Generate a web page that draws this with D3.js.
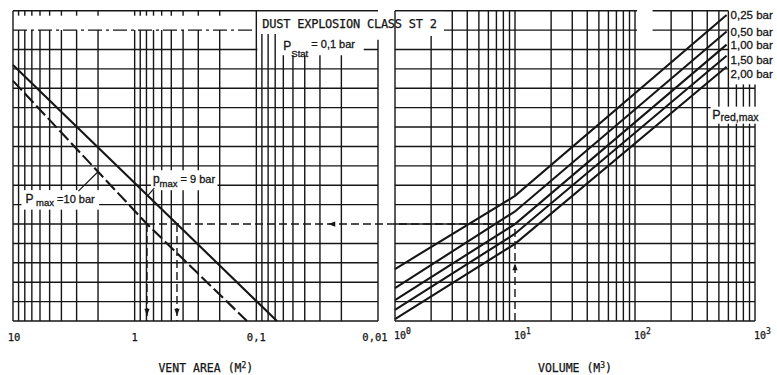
<!DOCTYPE html>
<html>
<head>
<meta charset="utf-8">
<script src="https://cdn.jsdelivr.net/npm/d3@7"></script>
<style>
  html, body { margin: 0; padding: 0; background: #fff; }
  svg { display: block; }
  .mono { font-family: "DejaVu Sans Mono", "Liberation Mono", monospace; stroke: #161616; stroke-width: 0.25px; }
  .sans { font-family: "Liberation Sans", Arial, sans-serif; stroke: #161616; stroke-width: 0.3px; }
</style>
</head>
<body>
<svg id="chart" width="777" height="375"></svg>
<script>
// ---- axis values -------------------------------------------------------
// vent area axis (m²), decreasing to the right
const areaTicks = [10, 1, 0.1, 0.01];
const areaTickLabels = ["10", "1", "0,1", "0,01"];
// volume axis (m³)
const volumeTicks = [1, 10, 100, 1000];
const volumeExponents = ["0", "1", "2", "3"];
// the nomogram's shared, unlabelled row scale
const rowCount = 16;

// ---- left panel: maximum explosion pressure lines (vent area -> row) ----
const pmax9Area = [10, 0.449, 0.0677];
const pmax9Row = [13.2, 5.0, 0];
const pmax10Area = [10, 0.792, 0.1194];
const pmax10Row = [12.38, 5.0, 0];

// ---- right panel: reduced explosion pressure lines (volume -> row) ------
const predLabels = ["0,25 bar", "0,50 bar", "1,00 bar", "1,50 bar", "2,00 bar"];
const predVolume = [1, 10, 580];
const pred025 = [2.68, 6.45, 15.78];
const pred050 = [1.70, 5.65, 14.93];
const pred100 = [1.08, 5.00, 14.25];
const pred150 = [0.57, 4.50, 13.68];
const pred200 = [0.10, 3.98, 13.11];
const predRows = [pred025, pred050, pred100, pred150, pred200];

// worked example: 10 m³ vessel, p_red,max = 1,00 bar
const exampleVolume = 10;
const exampleLine = 2;

// ---- drawing ------------------------------------------------------------
const W = 777, H = 375;
const ink = "#161616";
const svg = d3.select("#chart");
svg.append("rect").attr("width", W).attr("height", H).attr("fill", "#fff");

const y = d3.scaleLinear().domain([0, rowCount]).range([321, 10.7]);
const xL = d3.scaleLog().domain([10, 0.01]).range([13, 378]);
const xR = d3.scaleLog().domain([1, 1000]).range([395, 755]);

function decadeValues(lo, hi) {
  const out = [];
  for (let d = lo; d < hi * 0.999; d *= 10)
    for (let k = 1; k < 10; k++) out.push(+(d * k).toPrecision(3));
  out.push(hi);
  return out;
}
const areaGrid = decadeValues(0.01, 10);
const volGrid = decadeValues(1, 1000);
const rows = d3.range(0, rowCount + 1);

// piecewise-linear in log10(x)
function rowAt(xs, rs, v) {
  const lv = Math.log10(v);
  for (let i = 0; i < xs.length - 1; i++) {
    const a = Math.log10(xs[i]), b = Math.log10(xs[i + 1]);
    const t = (lv - a) / (b - a);
    if (t >= -1e-9 && t <= 1 + 1e-9) return rs[i] + t * (rs[i + 1] - rs[i]);
  }
  return null;
}
function valueAt(xs, rs, r) {
  for (let i = 0; i < xs.length - 1; i++) {
    const t = (r - rs[i]) / (rs[i + 1] - rs[i]);
    if (t >= -1e-9 && t <= 1 + 1e-9) {
      const a = Math.log10(xs[i]), b = Math.log10(xs[i + 1]);
      return Math.pow(10, a + t * (b - a));
    }
  }
  return null;
}

const exampleRow = rowAt(predVolume, predRows[exampleLine], exampleVolume);
const area10 = valueAt(pmax10Area, pmax10Row, exampleRow);
const area9 = valueAt(pmax9Area, pmax9Row, exampleRow);

const gridW = 1.4;
const gH = svg.append("g").attr("stroke", ink).attr("stroke-width", gridW);
const gKnock = svg.append("g").attr("fill", "#fff");
const gV = svg.append("g").attr("stroke", ink).attr("stroke-width", gridW);
const gCurves = svg.append("g").attr("fill", "none").attr("stroke", ink);
const gExample = svg.append("g");
const gLabels = svg.append("g");

function seg(g, x1, y1, x2, y2, dash) {
  const l = g.append("line").attr("x1", x1).attr("y1", y1).attr("x2", x2).attr("y2", y2);
  if (dash) l.attr("stroke-dasharray", dash);
  return l;
}

// horizontal grid, left panel
rows.forEach(r => {
  let x2 = xL(0.01), dash = null;
  if (r === 15) { x2 = xL(0.1); dash = "14,4,3,4"; }
  if (Math.abs(r - exampleRow) < 1e-6) x2 = xL(area10);
  seg(gH, xL(10), y(r), x2, y(r), dash);
});
// horizontal grid, right panel
rows.forEach(r => {
  const x2 = r >= 13 ? xR(600) : xR(1000);
  seg(gH, xR(1), y(r), x2, y(r));
});

// blank areas for the heading and the right-hand labels
const knockouts = [
  { x1: xL(0.1) + 1, x2: xR(2.56), y1: y(16) + 1.2, y2: y(15) + 1.5 },
  { x1: xL(0.1) + 1, x2: xL(0.0131), y1: y(15) + 1.5, y2: y(14) + 2 },
  { x1: xR(600) + 1.2, x2: W, y1: 0, y2: y(12.2) },
  { x1: xR(104), x2: xR(140), y1: 0, y2: y(14.8) }
];
knockouts.forEach(k => gKnock.append("rect")
  .attr("x", k.x1).attr("y", k.y1).attr("width", k.x2 - k.x1).attr("height", k.y2 - k.y1));

// vertical grid, left panel
areaGrid.forEach(a => {
  let top;
  if (a === 10 || a === 0.1) top = 16;
  else if (a > 0.1) top = 15;
  else if (a > 0.06) top = 14.8;
  else if (a > 0.0135) top = 13.7;
  else top = 14.5;
  seg(gV, xL(a), y(top), xL(a), y(0));
  if (a > 0.1 && a < 10) seg(gV, xL(a), y(16), xL(a), y(16) + 5);
});
// vertical grid, right panel
volGrid.forEach(v => {
  let top = 16;
  if (v > 1 && v < 2.6) top = 14.7;
  else if (v > 600) top = 12.2;
  if (v === exampleVolume) {
    seg(gV, xR(v), y(top), xR(v), y(predRows[0][1]));
  } else {
    seg(gV, xR(v), y(top), xR(v), y(0));
  }
});

// p_max lines
const curveW = 2.1;
const lineL = d3.line().x(d => xL(d[0])).y(d => y(d[1]));
gCurves.append("path").attr("d", lineL(d3.zip(pmax9Area, pmax9Row))).attr("stroke-width", curveW);
gCurves.append("path").attr("d", lineL(d3.zip(pmax10Area, pmax10Row)))
  .attr("stroke-width", curveW).attr("stroke-dasharray", "13,4");

// p_red,max lines
const lineR = d3.line().x(d => xR(d[0])).y(d => y(d[1]));
predRows.forEach(rs => gCurves.append("path")
  .attr("d", lineR(d3.zip(predVolume, rs))).attr("stroke-width", curveW));

// worked example path
const exDash = "8,4";
const gEx = gExample.append("g").attr("stroke", ink).attr("stroke-width", 1.4).attr("fill", "none");
seg(gEx, xR(exampleVolume), y(0), xR(exampleVolume), y(exampleRow), exDash);
seg(gEx, xR(exampleVolume), y(exampleRow), xL(area10), y(exampleRow), exDash);
seg(gEx, xL(area10), y(exampleRow), xL(area10), y(0), exDash);
seg(gEx, xL(area9), y(exampleRow), xL(area9), y(0), exDash);

function arrow(x, yy, dir) {
  const s = 2.6, l = 7;
  let p;
  if (dir === "up") p = [[x, yy - l / 2], [x - s, yy + l / 2], [x + s, yy + l / 2]];
  else if (dir === "down") p = [[x, yy + l / 2], [x - s, yy - l / 2], [x + s, yy - l / 2]];
  else p = [[x - l / 2, yy], [x + l / 2, yy - s], [x + l / 2, yy + s]];
  gExample.append("path").attr("d", "M" + p.map(q => q.join(",")).join("L") + "Z").attr("fill", ink);
}
arrow(xR(exampleVolume), y(2.8), "up");
arrow(xL(0.024), y(exampleRow), "left");
arrow(xL(area10), y(0.45), "down");
arrow(xL(area9), y(0.45), "down");

// ---- text ---------------------------------------------------------------
function knockText(t, padX, padY) {
  const b = t.node().getBBox();
  gLabels.insert("rect", () => t.node())
    .attr("x", b.x - padX).attr("y", b.y - padY)
    .attr("width", b.width + 2 * padX).attr("height", b.height + 2 * padY)
    .attr("fill", "#fff");
}

// heading
gLabels.append("text").attr("class", "mono")
  .attr("x", xL(0.1) + 6).attr("y", y(15) - 2.2)
  .attr("font-size", 12).attr("letter-spacing", -0.25).attr("fill", ink)
  .text("DUST EXPLOSION CLASS ST 2");

// p_stat
const tStat = gLabels.append("text").attr("class", "sans").attr("fill", ink)
  .attr("x", xL(0.06)).attr("y", y(14) + 0.8);
tStat.append("tspan").attr("font-size", 12).text("P");
tStat.append("tspan").attr("font-size", 9.5).attr("dy", 6.5).text("Stat");
tStat.append("tspan").attr("font-size", 11).attr("dy", -9).text(" = 0,1 bar");

// p_max labels
const t10 = gLabels.append("text").attr("class", "sans").attr("fill", ink)
  .attr("x", xL(7.9)).attr("y", y(6) - 2);
t10.append("tspan").attr("font-size", 12).text("P");
t10.append("tspan").attr("font-size", 9.5).attr("dy", 3.5).text(" max");
t10.append("tspan").attr("font-size", 11).attr("dy", -3.5).text(" =10 bar");
knockText(t10, 4, 1.5);

const t9 = gLabels.append("text").attr("class", "sans").attr("fill", ink)
  .attr("x", xL(0.708)).attr("y", y(7) - 2.5);
t9.append("tspan").attr("font-size", 12).text("p");
t9.append("tspan").attr("font-size", 9.5).attr("dy", 4).text("max");
t9.append("tspan").attr("font-size", 11).attr("dy", -4).text(" = 9 bar");
knockText(t9, 2, 1.5);

// leaders from the p_max labels to their lines
const gLead = gLabels.append("g").attr("stroke", ink).attr("stroke-width", 1.2);
seg(gLead, xL(2.9), y(6.7), xL(2.0), y(rowAt(pmax10Area, pmax10Row, 2.0)));
seg(gLead, xL(0.69), y(6.85), xL(0.78), y(rowAt(pmax9Area, pmax9Row, 0.78)));

// p_red,max labels at the line ends
const predLabelDy = [4, 4.5, 4, 8, 11];
predLabels.forEach((s, i) => {
  const rs = predRows[i];
  gLabels.append("text").attr("class", "sans").attr("fill", ink)
    .attr("font-size", 11.5)
    .attr("x", xR(predVolume[predVolume.length - 1]) + 4)
    .attr("y", y(rs[rs.length - 1]) + predLabelDy[i])
    .text(s);
});
const tRed = gLabels.append("text").attr("class", "sans").attr("fill", ink)
  .attr("x", xR(440)).attr("y", y(11) + 11);
tRed.append("tspan").attr("font-size", 12.5).text("P");
tRed.append("tspan").attr("font-size", 10.5).attr("dy", 2).text("red,max");
knockText(tRed, 1.5, 1);

// bottom axis, vent area
areaTicks.forEach((a, i) => gLabels.append("text").attr("class", "mono").attr("fill", ink)
  .attr("font-size", 10.5).attr("text-anchor", "middle")
  .attr("x", xL(a) + (i === 0 ? 1 : i === 3 ? -3 : 0)).attr("y", 341).text(areaTickLabels[i]));
const tA = gLabels.append("text").attr("class", "mono").attr("fill", ink)
  .attr("font-size", 11.5).attr("text-anchor", "middle")
  .attr("x", xL(0.26)).attr("y", 372);
tA.append("tspan").text("VENT AREA (M");
tA.append("tspan").attr("font-size", 8).attr("dy", -4.5).text("2");
tA.append("tspan").attr("dy", 4.5).text(")");

// bottom axis, volume
volumeTicks.forEach((v, i) => {
  const t = gLabels.append("text").attr("class", "mono").attr("fill", ink)
    .attr("font-size", 10).attr("x", xR(v) - 1).attr("y", 339);
  t.append("tspan").text("10");
  t.append("tspan").attr("font-size", 8).attr("dy", -5).text(volumeExponents[i]);
});
const tV = gLabels.append("text").attr("class", "mono").attr("fill", ink)
  .attr("font-size", 11.5).attr("text-anchor", "middle")
  .attr("x", (xR(1) + xR(1000)) / 2).attr("y", 372);
tV.append("tspan").text("VOLUME (M");
tV.append("tspan").attr("font-size", 8).attr("dy", -4.5).text("3");
tV.append("tspan").attr("dy", 4.5).text(")");
</script>
</body>
</html>
